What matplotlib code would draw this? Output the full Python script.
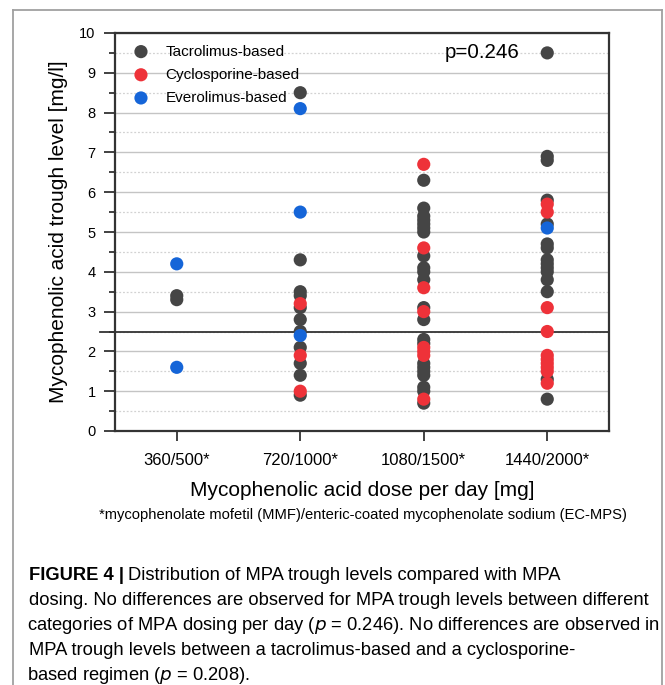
import matplotlib

matplotlib.use("Agg")

import matplotlib.pyplot as plt
from matplotlib.lines import Line2D
from matplotlib.ticker import MultipleLocator
import numpy as np

plt.rcParams["font.family"] = ["Liberation Sans", "DejaVu Sans"]

CATEGORIES = ["360/500*", "720/1000*", "1080/1500*", "1440/2000*"]

# MPA trough level [mg/l] per dosing category
TAC = [
    [3.4, 3.3],
    [8.5, 4.3, 3.5, 3.4, 3.1, 2.8, 2.5, 2.1, 1.7, 1.4, 0.9],
    [6.3, 5.6, 5.4, 5.3, 5.2, 5.1, 5.0, 4.4, 4.1, 4.0, 3.8, 3.1, 2.8,
     2.3, 2.2, 1.7, 1.6, 1.5, 1.4, 1.1, 1.0, 0.7],
    [9.5, 6.9, 6.8, 5.8, 5.2, 4.7, 4.6, 4.3, 4.2, 4.1, 4.0, 3.8, 3.5, 1.3, 0.8],
]
CYC = [
    [],
    [3.2, 1.9, 1.0],
    [6.7, 4.6, 3.6, 3.0, 2.1, 2.0, 1.9, 0.8],
    [5.7, 5.5, 3.1, 2.5, 1.9, 1.8, 1.7, 1.6, 1.5, 1.2],
]
EVE = [
    [4.2, 1.6],
    [8.1, 5.5, 2.4],
    [],
    [5.1],
]
GROUPS = [
    ("Tacrolimus-based", TAC, "#454545"),
    ("Cyclosporine-based", CYC, "#ee3239"),
    ("Everolimus-based", EVE, "#1565d8"),
]
THRESHOLD = 2.5
P_TEXT = "p=0.246"

CAPTION_LINES = [
    "Distribution of MPA trough levels compared with MPA",
    "dosing. No differences are observed for MPA trough levels between different",
    "categories of MPA dosing per day ($\\it{p}$ = 0.246). No differences are observed in",
    "MPA trough levels between a tacrolimus-based and a cyclosporine-",
    "based regimen ($\\it{p}$ = 0.208).",
]

W, H = 665, 685
fig = plt.figure(figsize=(W / 100, H / 100), dpi=100)
ax = fig.add_axes([115 / W, 1 - 431 / H, 494 / W, 398 / H])

for label, data, color in GROUPS:
    xs, ys = [], []
    for i, vals in enumerate(data):
        xs.extend([i + 1] * len(vals))
        ys.extend(vals)
    ax.scatter(xs, ys, s=90, color=color, edgecolors="none", label=label, zorder=3)

ax.axhline(THRESHOLD, xmin=-0.03, xmax=1.0, color="#333333", lw=1.3, zorder=2, clip_on=False)

ax.set_xlim(0.5, 4.5)
ax.set_ylim(0, 10)
ax.set_xticks(np.arange(1, len(CATEGORIES) + 1))
ax.set_xticklabels(CATEGORIES, fontsize=12)
ax.yaxis.set_major_locator(MultipleLocator(1))
ax.yaxis.set_minor_locator(MultipleLocator(0.5))
ax.tick_params(axis="y", which="major", length=8, width=1.3, labelsize=10.5, pad=6, color="#333333")
ax.tick_params(axis="y", which="minor", length=4, width=1.3, color="#333333")
ax.tick_params(axis="x", which="major", length=7, width=1.3, pad=9, color="#333333")
ax.grid(axis="y", which="major", color="#c4c4c4", lw=1.0, zorder=0)
ax.grid(axis="y", which="minor", color="#d2d2d2", lw=0.9, ls=(0, (1.5, 1.5)), zorder=0)
ax.set_axisbelow(True)
for sp in ax.spines.values():
    sp.set_color("#333333")
    sp.set_linewidth(1.6)

ax.set_ylabel("Mycophenolic acid trough level [mg/l]", fontsize=15, labelpad=8)
ax.set_xlabel("Mycophenolic acid dose per day [mg]", fontsize=15, labelpad=9)

ax.legend(loc="upper left", bbox_to_anchor=(0.0, 1.013), frameon=False, fontsize=11,
          handletextpad=1.0, labelspacing=0.6, borderaxespad=0.7, handlelength=1.2)

ax.text(0.668, 0.95, P_TEXT, transform=ax.transAxes, fontsize=14.8, ha="left", va="center")

fig.text(363 / W, 1 - 515 / H,
         "*mycophenolate mofetil (MMF)/enteric-coated mycophenolate sodium (EC-MPS)",
         fontsize=10.6, ha="center", va="center")

# outer frame of the figure panel (open at the bottom)
frame_kw = dict(color="#a0a0a0", lw=1.3, transform=fig.transFigure)
fig.add_artist(Line2D([13 / W, 13 / W], [0, 1 - 10 / H], **frame_kw))
fig.add_artist(Line2D([13 / W, 662 / W], [1 - 10 / H, 1 - 10 / H], **frame_kw))
fig.add_artist(Line2D([662 / W, 662 / W], [0, 1 - 10 / H], **frame_kw))

# caption: size chosen so the widest line spans the same width as in the reference
renderer = fig.canvas.get_renderer()
probe = fig.text(0, 0, CAPTION_LINES[1], fontsize=14)
cap_size = 14 * 622 / probe.get_window_extent(renderer).width
probe.remove()

y0 = 575
step = 25.2
bold = fig.text(29 / W, 1 - y0 / H, "FIGURE 4 |", fontsize=cap_size, fontweight="bold",
                ha="left", va="center")
bb = bold.get_window_extent(renderer)
fig.text((bb.x1 + 4) / W, 1 - y0 / H, CAPTION_LINES[0], fontsize=cap_size,
         ha="left", va="center")
for k, line in enumerate(CAPTION_LINES[1:], start=1):
    x0 = 27 if "$" in line else 29
    fig.text(x0 / W, 1 - (y0 + step * k) / H, line, fontsize=cap_size,
             ha="left", va="center")

fig.savefig("out.png", dpi=100)
